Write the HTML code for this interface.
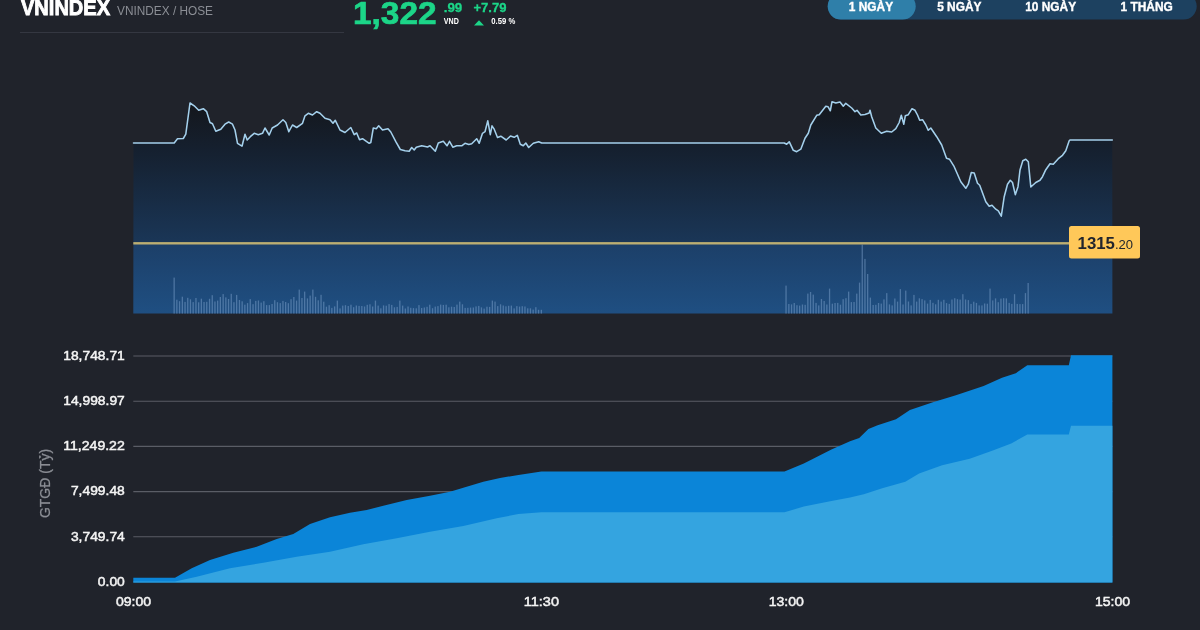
<!DOCTYPE html>
<html lang="vi"><head><meta charset="utf-8"><title>VNINDEX</title>
<style>
html,body{margin:0;padding:0;background:#20232b;}
body{width:1200px;height:630px;overflow:hidden;position:relative;font-family:"Liberation Sans",sans-serif;}
svg{position:absolute;left:0;top:0;display:block;will-change:transform}
text{font-family:"Liberation Sans",sans-serif}
</style></head><body>
<svg width="1200" height="630" viewBox="0 0 1200 630">
<defs>
<linearGradient id="g1" x1="0" y1="100" x2="0" y2="313.6" gradientUnits="userSpaceOnUse">
<stop offset="0" stop-color="#14161b"/><stop offset="0.234" stop-color="#15202f"/><stop offset="0.6705" stop-color="#1a3657"/><stop offset="0.6715" stop-color="#1c3f68"/><stop offset="1" stop-color="#1f4f82"/></linearGradient>
</defs>
<rect width="1200" height="630" fill="#20232b"/>

<!-- header -->
<text x="21" y="15" font-size="22" font-weight="bold" fill="#ffffff" stroke="#ffffff" stroke-width="0.9" textLength="89" lengthAdjust="spacingAndGlyphs">VNINDEX</text>
<text x="117" y="15" font-size="13" fill="#8b8e95" textLength="96" lengthAdjust="spacingAndGlyphs">VNINDEX / HOSE</text>
<rect x="20" y="32" width="324" height="1" fill="#343741"/>
<text x="353" y="23.8" font-size="31.5" font-weight="bold" fill="#1cd588" stroke="#1cd588" stroke-width="0.7" textLength="83.5" lengthAdjust="spacingAndGlyphs">1,322</text>
<text x="443.7" y="11.8" font-size="12.6" font-weight="bold" fill="#1cd588" stroke="#1cd588" stroke-width="0.3" textLength="18.6" lengthAdjust="spacingAndGlyphs">.99</text>
<text x="443.8" y="23.8" font-size="8.5" font-weight="bold" fill="#ffffff" textLength="15" lengthAdjust="spacingAndGlyphs">VND</text>
<text x="473.4" y="11.8" font-size="12.6" font-weight="bold" fill="#1cd588" stroke="#1cd588" stroke-width="0.3" textLength="33" lengthAdjust="spacingAndGlyphs">+7.79</text>
<path d="M474,25.6 L479,20.3 L484,25.6 Z" fill="#1cd588"/>
<text x="491.3" y="24" font-size="8.5" font-weight="bold" fill="#ffffff" textLength="24" lengthAdjust="spacingAndGlyphs">0.59 %</text>

<!-- tabs -->
<rect x="827.7" y="-7" width="369" height="26.5" rx="13.2" fill="#1d4160"/>
<rect x="827.7" y="-7" width="88" height="26.5" rx="13.2" fill="#2f7fa9"/>
<g font-size="11.9" font-weight="bold" fill="#ffffff" stroke="#ffffff" stroke-width="0.35" text-anchor="middle">
<text x="871" y="11.3">1 NGÀY</text>
<text x="959.3" y="11.3">5 NGÀY</text>
<text x="1050.7" y="11.3">10 NGÀY</text>
<text x="1146.7" y="11.3">1 THÁNG</text>
</g>

<!-- top chart -->
<path d="M133.3,313.6 L133.5,143.0 L174.2,143.0 L177.5,138.8 L183.3,138.5 L185.8,134.2 L190.0,103.0 L194.2,105.8 L198.7,110.3 L203.3,108.7 L206.7,111.7 L210.0,122.5 L212.5,123.8 L215.8,131.3 L220.8,129.2 L225.0,124.2 L228.7,122.0 L232.5,124.2 L235.0,130.0 L237.5,143.3 L242.0,146.2 L245.0,134.2 L247.2,140.0 L250.3,136.7 L254.2,133.3 L258.3,134.7 L262.5,133.3 L265.0,128.0 L269.2,135.0 L272.2,128.0 L277.5,125.0 L283.0,119.7 L285.8,122.5 L288.8,131.7 L292.5,125.0 L296.7,127.5 L302.5,123.3 L305.0,115.8 L308.3,113.3 L312.5,115.0 L316.7,111.7 L320.0,113.3 L325.0,118.3 L330.0,119.7 L333.0,123.3 L335.3,120.3 L340.0,130.0 L345.0,132.5 L350.8,127.5 L354.2,134.7 L356.7,133.0 L359.5,139.7 L362.5,138.7 L369.2,143.3 L370.8,142.5 L373.3,128.0 L376.3,128.7 L378.7,125.8 L382.5,130.0 L388.0,128.7 L390.8,132.0 L395.8,141.7 L400.3,149.5 L405.0,150.8 L409.2,151.2 L411.7,147.5 L414.2,150.0 L416.3,147.2 L421.7,145.8 L427.5,147.0 L430.0,145.8 L435.3,151.3 L438.3,143.0 L443.3,141.3 L447.0,145.8 L449.5,141.3 L452.8,147.2 L456.7,145.8 L461.7,145.8 L465.0,143.3 L468.8,144.5 L471.7,143.7 L476.7,138.7 L479.2,143.3 L482.5,133.3 L485.0,131.7 L487.8,120.8 L490.3,134.7 L492.0,125.8 L494.2,129.2 L497.5,137.5 L500.8,136.2 L506.2,140.0 L510.5,136.0 L514.2,137.3 L517.3,135.3 L520.3,144.2 L523.3,145.8 L525.8,143.0 L528.7,147.5 L533.3,143.3 L538.7,141.7 L541.7,143.0 L784.2,143.0 L786.7,144.2 L789.2,141.7 L793.3,150.3 L796.7,151.7 L800.8,149.2 L805.0,138.3 L808.3,133.3 L810.8,125.0 L816.7,115.3 L819.2,114.7 L825.8,106.2 L828.0,106.7 L830.3,110.8 L832.0,101.7 L835.8,103.0 L840.0,102.0 L843.3,106.2 L845.8,103.3 L851.7,108.0 L855.0,111.7 L857.0,110.3 L860.8,115.0 L865.0,114.5 L869.2,113.0 L870.0,110.3 L871.7,116.7 L875.8,128.0 L881.3,133.3 L886.7,131.3 L891.7,132.0 L895.8,128.7 L899.2,122.5 L901.3,115.3 L903.8,124.2 L905.3,115.8 L908.3,114.7 L912.0,108.7 L915.0,110.3 L917.5,115.0 L919.7,120.3 L922.5,119.7 L925.8,125.0 L928.3,130.3 L930.8,128.0 L936.7,136.7 L941.7,145.0 L946.5,158.3 L949.5,159.2 L954.2,166.7 L960.8,181.7 L965.8,188.3 L968.3,184.2 L971.3,172.5 L974.2,173.0 L977.5,183.3 L979.7,185.3 L985.8,201.7 L989.2,206.3 L992.0,205.3 L995.8,209.2 L998.3,210.8 L1001.3,216.2 L1004.2,196.7 L1007.5,184.2 L1010.3,180.3 L1012.5,182.5 L1015.3,194.7 L1018.0,186.7 L1020.0,170.0 L1022.8,160.8 L1025.8,159.2 L1028.3,161.7 L1030.8,187.0 L1035.8,182.5 L1040.0,180.3 L1042.5,176.7 L1045.8,169.7 L1050.0,163.7 L1053.3,164.2 L1058.3,158.7 L1062.5,155.3 L1065.8,150.8 L1069.2,140.8 L1070.0,140.0 L1112.3,140.0 L1112.4,313.6 Z" fill="url(#g1)"/>
<g fill="#8fb2dc" fill-opacity="0.42"><rect x="173.5" y="277.6" width="1.3" height="36.0"/><rect x="176.2" y="299.7" width="1.3" height="13.9"/><rect x="178.9" y="301.2" width="1.3" height="12.4"/><rect x="181.7" y="296.7" width="1.3" height="16.9"/><rect x="184.4" y="301.9" width="1.3" height="11.7"/><rect x="187.1" y="297.8" width="1.3" height="15.8"/><rect x="189.8" y="299.3" width="1.3" height="14.3"/><rect x="192.5" y="302.1" width="1.3" height="11.5"/><rect x="195.3" y="298.0" width="1.3" height="15.6"/><rect x="198.0" y="302.3" width="1.3" height="11.3"/><rect x="200.7" y="298.7" width="1.3" height="14.9"/><rect x="203.4" y="302.0" width="1.3" height="11.6"/><rect x="206.1" y="301.8" width="1.3" height="11.8"/><rect x="208.9" y="298.8" width="1.3" height="14.8"/><rect x="211.6" y="295.2" width="1.3" height="18.4"/><rect x="214.3" y="301.5" width="1.3" height="12.1"/><rect x="217.0" y="300.6" width="1.3" height="13.0"/><rect x="219.7" y="297.0" width="1.3" height="16.6"/><rect x="222.5" y="294.1" width="1.3" height="19.5"/><rect x="225.2" y="297.4" width="1.3" height="16.2"/><rect x="227.9" y="299.0" width="1.3" height="14.6"/><rect x="230.6" y="293.8" width="1.3" height="19.8"/><rect x="233.3" y="302.2" width="1.3" height="11.4"/><rect x="236.0" y="294.9" width="1.3" height="18.7"/><rect x="238.8" y="300.0" width="1.3" height="13.6"/><rect x="241.5" y="301.3" width="1.3" height="12.3"/><rect x="244.2" y="304.7" width="1.3" height="8.9"/><rect x="246.9" y="303.1" width="1.3" height="10.5"/><rect x="249.6" y="299.1" width="1.3" height="14.5"/><rect x="252.4" y="304.2" width="1.3" height="9.4"/><rect x="255.1" y="300.9" width="1.3" height="12.7"/><rect x="257.8" y="300.5" width="1.3" height="13.1"/><rect x="260.5" y="302.6" width="1.3" height="11.0"/><rect x="263.2" y="301.2" width="1.3" height="12.4"/><rect x="266.0" y="305.1" width="1.3" height="8.5"/><rect x="268.7" y="305.1" width="1.3" height="8.5"/><rect x="271.4" y="304.0" width="1.3" height="9.6"/><rect x="274.1" y="300.2" width="1.3" height="13.4"/><rect x="276.8" y="302.2" width="1.3" height="11.4"/><rect x="279.6" y="303.1" width="1.3" height="10.5"/><rect x="282.3" y="300.9" width="1.3" height="12.7"/><rect x="285.0" y="302.0" width="1.3" height="11.6"/><rect x="287.7" y="303.2" width="1.3" height="10.4"/><rect x="290.4" y="299.2" width="1.3" height="14.4"/><rect x="293.2" y="297.0" width="1.3" height="16.6"/><rect x="295.9" y="300.6" width="1.3" height="13.0"/><rect x="298.6" y="289.6" width="1.3" height="24.0"/><rect x="301.3" y="298.0" width="1.3" height="15.6"/><rect x="304.0" y="291.6" width="1.3" height="22.0"/><rect x="306.8" y="298.4" width="1.3" height="15.2"/><rect x="309.5" y="295.6" width="1.3" height="18.0"/><rect x="312.2" y="289.6" width="1.3" height="24.0"/><rect x="314.9" y="296.8" width="1.3" height="16.8"/><rect x="317.6" y="300.3" width="1.3" height="13.3"/><rect x="320.4" y="294.8" width="1.3" height="18.8"/><rect x="323.1" y="301.7" width="1.3" height="11.9"/><rect x="325.8" y="306.7" width="1.3" height="6.9"/><rect x="328.5" y="305.2" width="1.3" height="8.4"/><rect x="331.2" y="307.9" width="1.3" height="5.7"/><rect x="334.0" y="306.4" width="1.3" height="7.2"/><rect x="336.7" y="300.6" width="1.3" height="13.0"/><rect x="339.4" y="308.4" width="1.3" height="5.2"/><rect x="342.1" y="305.6" width="1.3" height="8.0"/><rect x="344.8" y="305.2" width="1.3" height="8.4"/><rect x="347.6" y="306.0" width="1.3" height="7.6"/><rect x="350.3" y="304.7" width="1.3" height="8.9"/><rect x="353.0" y="307.2" width="1.3" height="6.4"/><rect x="355.7" y="305.5" width="1.3" height="8.1"/><rect x="358.4" y="305.9" width="1.3" height="7.7"/><rect x="361.2" y="306.0" width="1.3" height="7.6"/><rect x="363.9" y="306.5" width="1.3" height="7.1"/><rect x="366.6" y="304.8" width="1.3" height="8.8"/><rect x="369.3" y="304.3" width="1.3" height="9.3"/><rect x="372.0" y="306.5" width="1.3" height="7.1"/><rect x="374.8" y="300.6" width="1.3" height="13.0"/><rect x="377.5" y="305.6" width="1.3" height="8.0"/><rect x="380.2" y="308.3" width="1.3" height="5.3"/><rect x="382.9" y="305.4" width="1.3" height="8.2"/><rect x="385.6" y="305.7" width="1.3" height="7.9"/><rect x="388.4" y="304.1" width="1.3" height="9.5"/><rect x="391.1" y="304.9" width="1.3" height="8.7"/><rect x="393.8" y="307.3" width="1.3" height="6.3"/><rect x="396.5" y="306.9" width="1.3" height="6.7"/><rect x="399.2" y="300.6" width="1.3" height="13.0"/><rect x="402.0" y="305.6" width="1.3" height="8.0"/><rect x="404.7" y="308.5" width="1.3" height="5.1"/><rect x="407.4" y="306.5" width="1.3" height="7.1"/><rect x="410.1" y="307.8" width="1.3" height="5.8"/><rect x="412.8" y="308.1" width="1.3" height="5.5"/><rect x="415.6" y="308.3" width="1.3" height="5.3"/><rect x="418.3" y="305.1" width="1.3" height="8.5"/><rect x="421.0" y="308.0" width="1.3" height="5.6"/><rect x="423.7" y="307.5" width="1.3" height="6.1"/><rect x="426.4" y="306.8" width="1.3" height="6.8"/><rect x="429.1" y="304.7" width="1.3" height="8.9"/><rect x="431.9" y="308.2" width="1.3" height="5.4"/><rect x="434.6" y="306.6" width="1.3" height="7.0"/><rect x="437.3" y="306.1" width="1.3" height="7.5"/><rect x="440.0" y="304.6" width="1.3" height="9.0"/><rect x="442.7" y="304.9" width="1.3" height="8.7"/><rect x="445.5" y="304.7" width="1.3" height="8.9"/><rect x="448.2" y="307.3" width="1.3" height="6.3"/><rect x="450.9" y="306.7" width="1.3" height="6.9"/><rect x="453.6" y="307.0" width="1.3" height="6.6"/><rect x="456.3" y="304.6" width="1.3" height="9.0"/><rect x="459.1" y="301.6" width="1.3" height="12.0"/><rect x="461.8" y="304.3" width="1.3" height="9.3"/><rect x="464.5" y="307.9" width="1.3" height="5.7"/><rect x="467.2" y="307.8" width="1.3" height="5.8"/><rect x="469.9" y="307.6" width="1.3" height="6.0"/><rect x="472.7" y="307.5" width="1.3" height="6.1"/><rect x="475.4" y="306.4" width="1.3" height="7.2"/><rect x="478.1" y="305.9" width="1.3" height="7.7"/><rect x="480.8" y="307.4" width="1.3" height="6.2"/><rect x="483.5" y="308.6" width="1.3" height="5.0"/><rect x="486.3" y="306.7" width="1.3" height="6.9"/><rect x="489.0" y="306.9" width="1.3" height="6.7"/><rect x="491.7" y="300.6" width="1.3" height="13.0"/><rect x="494.4" y="301.6" width="1.3" height="12.0"/><rect x="497.1" y="306.1" width="1.3" height="7.5"/><rect x="499.9" y="304.3" width="1.3" height="9.3"/><rect x="502.6" y="305.5" width="1.3" height="8.1"/><rect x="505.3" y="306.3" width="1.3" height="7.3"/><rect x="508.0" y="305.8" width="1.3" height="7.8"/><rect x="510.7" y="305.6" width="1.3" height="8.0"/><rect x="513.5" y="308.4" width="1.3" height="5.2"/><rect x="516.2" y="306.1" width="1.3" height="7.5"/><rect x="518.9" y="306.6" width="1.3" height="7.0"/><rect x="521.6" y="306.2" width="1.3" height="7.4"/><rect x="524.3" y="306.5" width="1.3" height="7.1"/><rect x="527.1" y="308.3" width="1.3" height="5.3"/><rect x="529.8" y="308.3" width="1.3" height="5.3"/><rect x="532.5" y="309.6" width="1.3" height="4.0"/><rect x="535.2" y="307.2" width="1.3" height="6.4"/><rect x="537.9" y="309.8" width="1.3" height="3.8"/><rect x="540.7" y="309.8" width="1.3" height="3.8"/><rect x="785.4" y="285.6" width="1.3" height="28.0"/><rect x="788.2" y="304.0" width="1.3" height="9.6"/><rect x="790.9" y="304.4" width="1.3" height="9.2"/><rect x="793.6" y="303.0" width="1.3" height="10.6"/><rect x="796.3" y="305.2" width="1.3" height="8.4"/><rect x="799.0" y="305.6" width="1.3" height="8.0"/><rect x="801.8" y="304.5" width="1.3" height="9.1"/><rect x="804.5" y="304.8" width="1.3" height="8.8"/><rect x="807.2" y="293.6" width="1.3" height="20.0"/><rect x="809.9" y="292.0" width="1.3" height="21.6"/><rect x="812.6" y="294.6" width="1.3" height="19.0"/><rect x="815.4" y="302.9" width="1.3" height="10.7"/><rect x="818.1" y="305.4" width="1.3" height="8.2"/><rect x="820.8" y="299.0" width="1.3" height="14.6"/><rect x="823.5" y="301.0" width="1.3" height="12.6"/><rect x="826.2" y="304.5" width="1.3" height="9.1"/><rect x="828.9" y="288.6" width="1.3" height="25.0"/><rect x="831.7" y="303.7" width="1.3" height="9.9"/><rect x="834.4" y="303.0" width="1.3" height="10.6"/><rect x="837.1" y="302.9" width="1.3" height="10.7"/><rect x="839.8" y="304.7" width="1.3" height="8.9"/><rect x="842.5" y="299.2" width="1.3" height="14.4"/><rect x="845.3" y="298.2" width="1.3" height="15.4"/><rect x="848.0" y="291.6" width="1.3" height="22.0"/><rect x="850.7" y="302.1" width="1.3" height="11.5"/><rect x="853.4" y="302.0" width="1.3" height="11.6"/><rect x="856.1" y="293.6" width="1.3" height="20.0"/><rect x="858.9" y="282.6" width="1.3" height="31.0"/><rect x="861.6" y="244.6" width="1.3" height="69.0"/><rect x="864.3" y="258.9" width="1.3" height="54.7"/><rect x="867.0" y="274.0" width="1.3" height="39.6"/><rect x="869.7" y="297.6" width="1.3" height="16.0"/><rect x="872.5" y="305.0" width="1.3" height="8.6"/><rect x="875.2" y="304.8" width="1.3" height="8.8"/><rect x="877.9" y="303.0" width="1.3" height="10.6"/><rect x="880.6" y="303.6" width="1.3" height="10.0"/><rect x="883.3" y="299.4" width="1.3" height="14.2"/><rect x="886.1" y="293.1" width="1.3" height="20.5"/><rect x="888.8" y="304.4" width="1.3" height="9.2"/><rect x="891.5" y="305.4" width="1.3" height="8.2"/><rect x="894.2" y="298.5" width="1.3" height="15.1"/><rect x="896.9" y="301.6" width="1.3" height="12.0"/><rect x="899.7" y="289.1" width="1.3" height="24.5"/><rect x="902.4" y="304.5" width="1.3" height="9.1"/><rect x="905.1" y="290.6" width="1.3" height="23.0"/><rect x="907.8" y="301.5" width="1.3" height="12.1"/><rect x="910.5" y="305.4" width="1.3" height="8.2"/><rect x="913.3" y="294.9" width="1.3" height="18.7"/><rect x="916.0" y="301.6" width="1.3" height="12.0"/><rect x="918.7" y="298.3" width="1.3" height="15.3"/><rect x="921.4" y="299.1" width="1.3" height="14.5"/><rect x="924.1" y="300.4" width="1.3" height="13.2"/><rect x="926.9" y="303.6" width="1.3" height="10.0"/><rect x="929.6" y="299.9" width="1.3" height="13.7"/><rect x="932.3" y="302.8" width="1.3" height="10.8"/><rect x="935.0" y="304.3" width="1.3" height="9.3"/><rect x="937.7" y="299.8" width="1.3" height="13.8"/><rect x="940.5" y="301.6" width="1.3" height="12.0"/><rect x="943.2" y="299.8" width="1.3" height="13.8"/><rect x="945.9" y="303.1" width="1.3" height="10.5"/><rect x="948.6" y="303.9" width="1.3" height="9.7"/><rect x="951.3" y="299.5" width="1.3" height="14.1"/><rect x="954.1" y="298.2" width="1.3" height="15.4"/><rect x="956.8" y="299.2" width="1.3" height="14.4"/><rect x="959.5" y="299.6" width="1.3" height="14.0"/><rect x="962.2" y="294.2" width="1.3" height="19.4"/><rect x="964.9" y="299.5" width="1.3" height="14.1"/><rect x="967.7" y="300.1" width="1.3" height="13.5"/><rect x="970.4" y="303.9" width="1.3" height="9.7"/><rect x="973.1" y="301.7" width="1.3" height="11.9"/><rect x="975.8" y="302.9" width="1.3" height="10.7"/><rect x="978.5" y="305.4" width="1.3" height="8.2"/><rect x="981.3" y="305.4" width="1.3" height="8.2"/><rect x="984.0" y="303.5" width="1.3" height="10.1"/><rect x="986.7" y="303.7" width="1.3" height="9.9"/><rect x="989.4" y="288.6" width="1.3" height="25.0"/><rect x="992.1" y="300.4" width="1.3" height="13.2"/><rect x="994.9" y="298.4" width="1.3" height="15.2"/><rect x="997.6" y="302.2" width="1.3" height="11.4"/><rect x="1000.3" y="298.6" width="1.3" height="15.0"/><rect x="1003.0" y="298.2" width="1.3" height="15.4"/><rect x="1005.7" y="298.4" width="1.3" height="15.2"/><rect x="1008.5" y="302.9" width="1.3" height="10.7"/><rect x="1011.2" y="303.9" width="1.3" height="9.7"/><rect x="1013.9" y="294.2" width="1.3" height="19.4"/><rect x="1016.6" y="303.9" width="1.3" height="9.7"/><rect x="1019.3" y="304.1" width="1.3" height="9.5"/><rect x="1022.0" y="304.1" width="1.3" height="9.5"/><rect x="1024.8" y="293.1" width="1.3" height="20.5"/><rect x="1027.5" y="283.0" width="1.3" height="30.6"/></g>
<polyline points="133.5,143.0 174.2,143.0 177.5,138.8 183.3,138.5 185.8,134.2 190.0,103.0 194.2,105.8 198.7,110.3 203.3,108.7 206.7,111.7 210.0,122.5 212.5,123.8 215.8,131.3 220.8,129.2 225.0,124.2 228.7,122.0 232.5,124.2 235.0,130.0 237.5,143.3 242.0,146.2 245.0,134.2 247.2,140.0 250.3,136.7 254.2,133.3 258.3,134.7 262.5,133.3 265.0,128.0 269.2,135.0 272.2,128.0 277.5,125.0 283.0,119.7 285.8,122.5 288.8,131.7 292.5,125.0 296.7,127.5 302.5,123.3 305.0,115.8 308.3,113.3 312.5,115.0 316.7,111.7 320.0,113.3 325.0,118.3 330.0,119.7 333.0,123.3 335.3,120.3 340.0,130.0 345.0,132.5 350.8,127.5 354.2,134.7 356.7,133.0 359.5,139.7 362.5,138.7 369.2,143.3 370.8,142.5 373.3,128.0 376.3,128.7 378.7,125.8 382.5,130.0 388.0,128.7 390.8,132.0 395.8,141.7 400.3,149.5 405.0,150.8 409.2,151.2 411.7,147.5 414.2,150.0 416.3,147.2 421.7,145.8 427.5,147.0 430.0,145.8 435.3,151.3 438.3,143.0 443.3,141.3 447.0,145.8 449.5,141.3 452.8,147.2 456.7,145.8 461.7,145.8 465.0,143.3 468.8,144.5 471.7,143.7 476.7,138.7 479.2,143.3 482.5,133.3 485.0,131.7 487.8,120.8 490.3,134.7 492.0,125.8 494.2,129.2 497.5,137.5 500.8,136.2 506.2,140.0 510.5,136.0 514.2,137.3 517.3,135.3 520.3,144.2 523.3,145.8 525.8,143.0 528.7,147.5 533.3,143.3 538.7,141.7 541.7,143.0 784.2,143.0 786.7,144.2 789.2,141.7 793.3,150.3 796.7,151.7 800.8,149.2 805.0,138.3 808.3,133.3 810.8,125.0 816.7,115.3 819.2,114.7 825.8,106.2 828.0,106.7 830.3,110.8 832.0,101.7 835.8,103.0 840.0,102.0 843.3,106.2 845.8,103.3 851.7,108.0 855.0,111.7 857.0,110.3 860.8,115.0 865.0,114.5 869.2,113.0 870.0,110.3 871.7,116.7 875.8,128.0 881.3,133.3 886.7,131.3 891.7,132.0 895.8,128.7 899.2,122.5 901.3,115.3 903.8,124.2 905.3,115.8 908.3,114.7 912.0,108.7 915.0,110.3 917.5,115.0 919.7,120.3 922.5,119.7 925.8,125.0 928.3,130.3 930.8,128.0 936.7,136.7 941.7,145.0 946.5,158.3 949.5,159.2 954.2,166.7 960.8,181.7 965.8,188.3 968.3,184.2 971.3,172.5 974.2,173.0 977.5,183.3 979.7,185.3 985.8,201.7 989.2,206.3 992.0,205.3 995.8,209.2 998.3,210.8 1001.3,216.2 1004.2,196.7 1007.5,184.2 1010.3,180.3 1012.5,182.5 1015.3,194.7 1018.0,186.7 1020.0,170.0 1022.8,160.8 1025.8,159.2 1028.3,161.7 1030.8,187.0 1035.8,182.5 1040.0,180.3 1042.5,176.7 1045.8,169.7 1050.0,163.7 1053.3,164.2 1058.3,158.7 1062.5,155.3 1065.8,150.8 1069.2,140.8 1070.0,140.0 1112.3,140.0" fill="none" stroke="#a4d0ec" stroke-width="1.55" stroke-linejoin="round" stroke-linecap="round"/>
<rect x="133.3" y="242.1" width="940" height="2.4" fill="#bcae72"/>
<rect x="1069" y="226" width="71" height="32.5" rx="2.5" fill="#ffc859"/>
<text x="1077.6" y="248.7" font-size="16.8" font-weight="bold" fill="#22252d">1315<tspan font-size="13" font-weight="normal">.20</tspan></text>

<!-- bottom chart -->
<g stroke="#5a5d66" stroke-width="1.1"><line x1="133.3" x2="1112.4" y1="356" y2="356"/><line x1="133.3" x2="1112.4" y1="401.2" y2="401.2"/><line x1="133.3" x2="1112.4" y1="446.4" y2="446.4"/><line x1="133.3" x2="1112.4" y1="491.6" y2="491.6"/><line x1="133.3" x2="1112.4" y1="536.8" y2="536.8"/></g>
<path d="M133.3,582.6 L133.3,577.7 L175.0,577.7 L191.7,568.3 L210.0,560.0 L233.3,552.7 L256.7,546.7 L276.7,539.0 L293.3,534.0 L310.0,524.0 L330.0,517.3 L350.0,512.7 L366.7,510.0 L383.3,505.7 L406.7,500.0 L430.0,495.7 L450.0,491.7 L463.3,487.7 L483.3,481.7 L500.0,478.1 L518.4,474.9 L541.4,471.6 L784.5,471.6 L803.8,463.4 L831.4,449.5 L850.0,441.3 L859.2,438.1 L868.4,428.9 L877.6,425.2 L896.0,419.2 L909.9,410.0 L932.9,402.2 L955.9,395.3 L983.6,386.1 L1002.0,377.8 L1015.8,373.2 L1027.3,365.3 L1068.8,365.3 L1071.0,355.2 L1112.4,355.2 L1112.4,582.6 Z" fill="#0b85d8"/>
<path d="M133.3,582.6 L133.3,581.4 L175.0,581.4 L196.7,576.7 L230.0,568.3 L263.3,562.7 L296.7,556.7 L330.0,551.7 L363.3,544.3 L396.7,538.3 L430.0,531.7 L463.3,526.0 L496.7,518.3 L518.4,514.0 L541.4,512.2 L784.5,512.2 L803.8,506.6 L831.4,501.1 L850.0,497.5 L863.8,494.3 L882.2,488.3 L905.3,481.8 L919.1,473.6 L942.1,465.3 L969.7,458.8 L992.8,450.5 L1011.2,443.6 L1027.3,434.4 L1068.8,434.4 L1071.0,425.7 L1112.4,425.7 L1112.4,582.6 Z" fill="#34a4e0"/>
<g font-size="13.5" fill="#f4f4f4" stroke="#f4f4f4" stroke-width="0.5"><text x="63.20" y="359.8" textLength="61.60" lengthAdjust="spacingAndGlyphs">18,748.71</text><text x="63.20" y="405.0" textLength="61.60" lengthAdjust="spacingAndGlyphs">14,998.97</text><text x="63.20" y="450.2" textLength="61.60" lengthAdjust="spacingAndGlyphs">11,249.22</text><text x="70.90" y="495.4" textLength="53.90" lengthAdjust="spacingAndGlyphs">7,499.48</text><text x="70.90" y="540.6" textLength="53.90" lengthAdjust="spacingAndGlyphs">3,749.74</text><text x="97.85" y="585.8" textLength="26.95" lengthAdjust="spacingAndGlyphs">0.00</text></g>
<g font-size="13.6" fill="#f4f4f4" stroke="#f4f4f4" stroke-width="0.5">
<text x="115.9" y="606.2" textLength="35.2" lengthAdjust="spacingAndGlyphs">09:00</text>
<text x="523.8" y="606.2" textLength="35.2" lengthAdjust="spacingAndGlyphs">11:30</text>
<text x="768.7" y="606.2" textLength="35.2" lengthAdjust="spacingAndGlyphs">13:00</text>
<text x="1094.9" y="606.2" textLength="35.2" lengthAdjust="spacingAndGlyphs">15:00</text>
</g>
<text transform="translate(49.6,483.5) rotate(-90)" text-anchor="middle" font-size="14" fill="#8b8e95" stroke="#8b8e95" stroke-width="0.25">GTGĐ (Tỷ)</text>
</svg>
</body></html>
